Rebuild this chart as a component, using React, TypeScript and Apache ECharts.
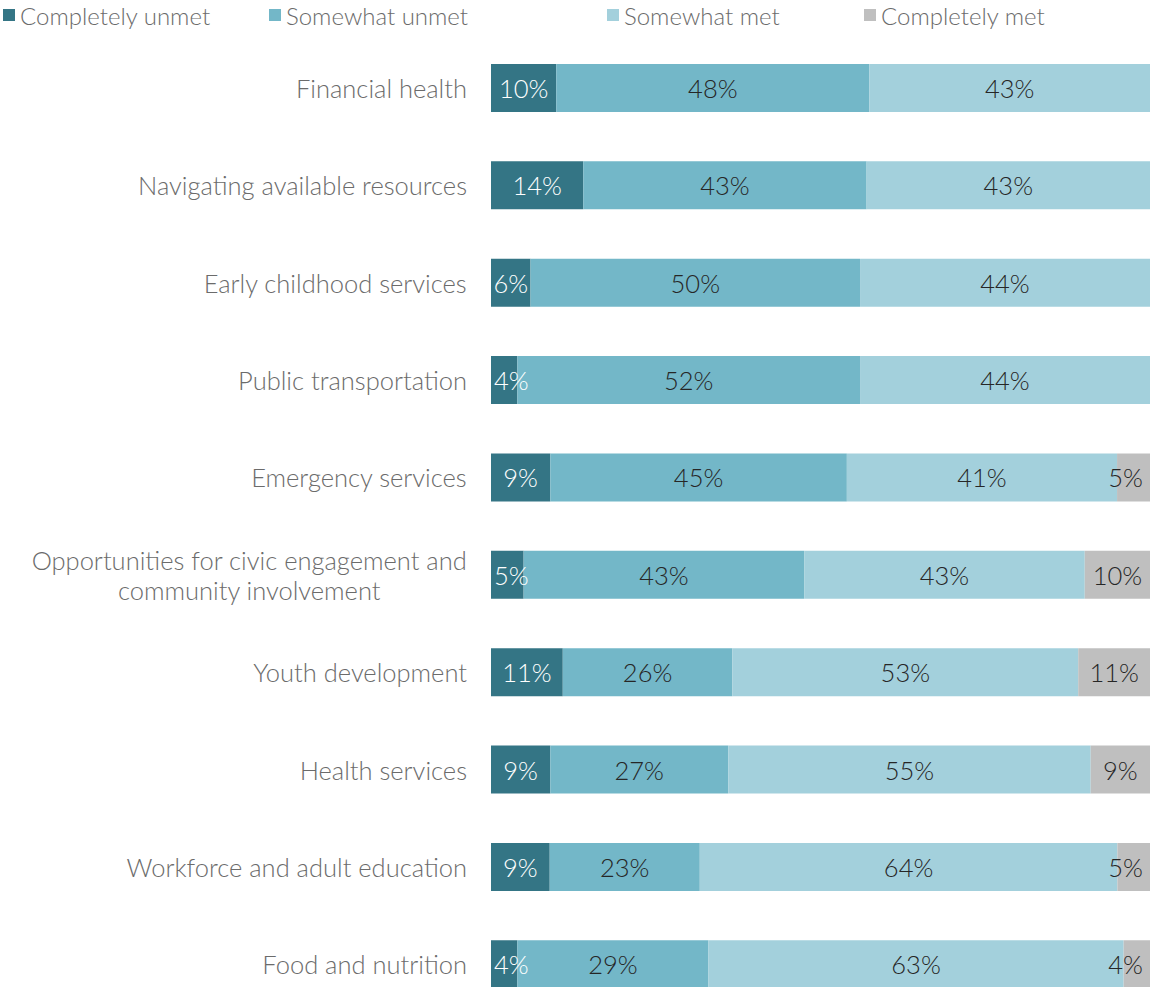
import React, { useEffect, useRef } from "react";
import * as echarts from "echarts";

const categories = [
  "Financial health",
  "Navigating available resources",
  "Early childhood services",
  "Public transportation",
  "Emergency services",
  "Opportunities for civic engagement and\ncommunity involvement",
  "Youth development",
  "Health services",
  "Workforce and adult education",
  "Food and nutrition",
];

const seriesNames = ["Completely unmet", "Somewhat unmet", "Somewhat met", "Completely met"];

const completelyUnmet = [10, 14, 6, 4, 9, 5, 11, 9, 9, 4];
const somewhatUnmet = [48, 43, 50, 52, 45, 43, 26, 27, 23, 29];
const somewhatMet = [43, 43, 44, 44, 41, 43, 53, 55, 64, 63];
const completelyMet = [0, 0, 0, 0, 5, 10, 11, 9, 5, 4];

const colors = ["#347585", "#73b7c8", "#a3d0dc", "#bfbfbf"];
const labelColors = ["#ffffff", "#262626", "#262626", "#262626"];
const legendLefts = [3, 269, 607, 864];

const FONT = "Lato, 'Noto Sans', sans-serif";

export default function App() {
  const ref = useRef<HTMLDivElement>(null);
  useEffect(() => {
    if (!ref.current) return;
    const chart = echarts.init(ref.current, undefined, { renderer: "svg" });
    const raw = [completelyUnmet, somewhatUnmet, somewhatMet, completelyMet];
    const totals = categories.map((_, i) => raw.reduce((s, arr) => s + arr[i], 0));
    const lastIdx = raw.length - 1;
    const series = raw.map((arr, si) => ({
      name: seriesNames[si],
      type: "bar",
      stack: "total",
      barWidth: 48,
      itemStyle: { color: colors[si] },
      label: {
        show: true,
        position: "inside",
        color: labelColors[si],
        fontFamily: FONT,
        fontWeight: 300,
        fontSize: 25.5,
        formatter: (p: any) => (arr[p.dataIndex] > 0 ? arr[p.dataIndex] + "%" : ""),
      },
      data: arr.map((v, i) => {
        const item: any = { value: (v / totals[i]) * 100 };
        if (si === 0 && v < 6) item.label = { position: "insideLeft", distance: 3 };
        if (si === lastIdx && v > 0 && v < 7) item.label = { position: "insideRight", distance: 7 };
        return item;
      }),
    }));
    chart.setOption({
      animation: false,
      legend: seriesNames.map((n, i) => ({
        data: [n],
        left: legendLefts[i],
        top: 1,
        padding: 0,
        icon: "rect",
        itemWidth: 12,
        itemHeight: 12,
        itemGap: 0,
        selectedMode: false,
        textStyle: { fontFamily: FONT, fontWeight: 300, fontSize: 24, color: "#6b6b6b", lineHeight: 28 },
      })),
      grid: { left: 491, right: 0, top: 39.3, bottom: 0, containLabel: false },
      xAxis: { type: "value", min: 0, max: 100, show: false },
      yAxis: {
        type: "category",
        inverse: true,
        data: categories,
        axisLine: { show: false },
        axisTick: { show: false },
        axisLabel: {
          margin: 24,
          fontFamily: FONT,
          fontWeight: 300,
          fontSize: 25.5,
          color: "#6b6b6b",
          formatter: (v: string) => v.split("\n").map((s) => "{c|" + s + "}").join("\n"),
          rich: { c: { align: "center", fontFamily: FONT, fontWeight: 300, fontSize: 25.5, color: "#6b6b6b", lineHeight: 30 } },
        },
      },
      series,
    });
    return () => chart.dispose();
  }, []);
  return (
    <div style={{ position: "absolute", left: 0, top: 0, width: 1150, height: 987, overflow: "hidden" }}>
      <div ref={ref} style={{ width: 1150, height: 1013 }} />
    </div>
  );
}
